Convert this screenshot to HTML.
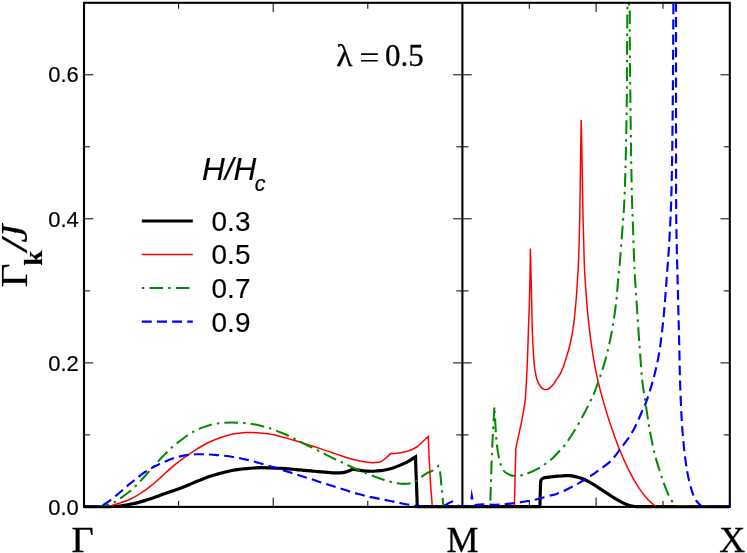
<!DOCTYPE html>
<html><head><meta charset="utf-8"><title>plot</title>
<style>
html,body{margin:0;padding:0;background:#fff;}
body{width:747px;height:553px;overflow:hidden;font-family:"Liberation Sans",sans-serif;}
svg{display:block;will-change:transform;}
text{stroke:#000;stroke-width:0.18px;}
.serif{stroke-width:0.3px;}
.sans{font-family:"Liberation Sans",sans-serif;}
.serif{font-family:"Liberation Serif",serif;}
</style></head><body>
<svg width="747" height="553" viewBox="0 0 747 553">
<rect x="0" y="0" width="747" height="553" fill="#fff"/>
<defs><clipPath id="cp"><rect x="84.0" y="2.8" width="645.8" height="506.6"/></clipPath></defs>
<g clip-path="url(#cp)" fill="none" stroke-linejoin="miter" stroke-miterlimit="10">
<path d="M84.0 506.7C88.0 506.7 102.0 506.8 108.0 506.7C114.0 506.6 116.2 506.5 120.3 506.0C124.4 505.5 129.4 504.4 132.4 503.8C135.4 503.2 136.5 502.9 138.5 502.4C140.5 501.9 142.6 501.2 144.6 500.6C146.6 500.0 148.6 499.4 150.6 498.7C152.6 498.0 154.7 497.3 156.7 496.6C158.7 495.9 160.7 495.0 162.7 494.3C164.7 493.6 166.9 492.9 168.8 492.2C170.7 491.5 171.9 491.1 174.0 490.4C176.1 489.7 178.8 488.8 181.2 487.9C183.6 487.0 186.1 486.0 188.5 485.0C190.9 484.0 193.3 482.8 195.7 481.8C198.1 480.8 200.5 479.8 202.9 478.9C205.3 478.0 207.7 477.1 210.1 476.3C212.5 475.5 215.0 474.8 217.4 474.1C219.8 473.4 222.2 472.8 224.6 472.2C227.0 471.6 229.4 471.0 231.8 470.5C234.2 470.0 236.7 469.6 239.1 469.3C241.5 469.0 243.9 468.8 246.3 468.6C248.7 468.4 251.1 468.1 253.5 468.0C255.9 467.9 258.3 467.7 260.7 467.7C263.1 467.7 265.6 467.7 268.0 467.8C270.4 467.9 272.9 468.0 275.2 468.1C277.5 468.2 279.7 468.3 282.0 468.4C284.3 468.5 286.8 468.7 289.2 468.9C291.6 469.1 294.1 469.4 296.5 469.6C298.9 469.8 301.3 470.1 303.7 470.3C306.1 470.5 308.5 470.7 310.9 470.9C313.3 471.1 315.7 471.4 318.1 471.6C320.5 471.8 323.0 472.0 325.4 472.2C327.8 472.4 330.2 472.7 332.6 472.8C335.0 472.9 337.9 473.0 339.8 472.9C341.7 472.8 342.8 472.7 344.2 472.4C345.6 472.1 347.1 471.4 348.5 470.9C349.9 470.4 352.1 469.5 352.8 469.2L352.8 469.2C353.5 469.3 355.8 469.7 357.2 469.9C358.6 470.1 359.6 470.4 361.5 470.6C363.4 470.8 366.3 471.1 368.7 471.2C371.1 471.3 373.5 471.2 376.0 471.0C378.5 470.8 380.8 470.7 383.5 470.2C386.2 469.7 389.3 469.1 392.2 468.2C395.1 467.3 398.0 466.2 400.9 464.9C403.8 463.6 407.2 462.0 409.6 460.6C412.0 459.2 414.5 457.4 415.5 456.8L415.5 456.8C415.6 459.4 415.8 466.7 416.0 472.2C416.2 477.7 416.5 483.9 416.7 489.6C416.9 495.4 417.2 503.9 417.3 506.7L417.3 506.7L462.4 506.7" stroke="#000000" stroke-width="3.2"/>
<path d="M462.4 506.7L539.9 506.7L539.9 506.7C540.0 504.8 540.1 498.6 540.2 495.0C540.3 491.4 540.4 487.3 540.5 485.0C540.6 482.7 540.6 482.0 540.8 481.0C541.0 480.0 541.2 479.6 541.7 479.1C542.2 478.6 542.7 478.3 543.6 478.0C544.5 477.7 545.8 477.5 547.0 477.3C548.2 477.1 549.7 477.0 551.0 476.8C552.3 476.6 553.5 476.4 555.0 476.3C556.5 476.2 558.3 476.1 560.0 476.0C561.7 475.9 563.8 475.7 565.4 475.6C567.0 475.6 568.2 475.6 569.5 475.7C570.8 475.8 572.0 475.9 573.4 476.1C574.8 476.4 576.4 476.8 578.0 477.2C579.6 477.6 580.9 478.0 582.8 478.8C584.7 479.6 587.3 481.0 589.5 482.2C591.7 483.4 594.0 484.8 596.2 486.2C598.4 487.6 600.7 489.2 602.9 490.6C605.1 492.1 607.3 493.5 609.5 494.9C611.7 496.3 614.0 497.9 616.2 499.2C618.4 500.5 620.7 501.8 622.9 502.9C625.1 503.9 627.4 504.9 629.6 505.5C631.8 506.1 634.9 506.5 636.0 506.7L636.0 506.7L729.8 506.7" stroke="#000000" stroke-width="3.2"/>
<path d="M84.0 506.4C87.2 506.4 98.4 506.6 103.0 506.4C107.6 506.3 109.0 506.0 111.9 505.4C114.8 504.8 117.9 503.7 120.3 502.9C122.7 502.1 124.4 501.6 126.4 500.8C128.4 500.0 130.4 499.0 132.4 498.0C134.4 497.0 136.5 495.8 138.5 494.6C140.5 493.4 142.6 492.1 144.6 490.7C146.6 489.3 148.6 487.7 150.6 486.1C152.6 484.5 154.7 482.8 156.7 481.0C158.7 479.2 160.7 477.5 162.7 475.6C164.7 473.8 166.9 471.6 168.8 469.9C170.7 468.2 171.9 467.1 174.0 465.4C176.1 463.7 178.8 461.7 181.2 459.9C183.6 458.1 186.1 456.3 188.5 454.6C190.9 452.9 193.3 451.3 195.7 449.8C198.1 448.3 200.5 446.8 202.9 445.5C205.3 444.2 207.7 442.9 210.1 441.8C212.5 440.7 215.0 439.6 217.4 438.7C219.8 437.8 222.2 436.9 224.6 436.2C227.0 435.5 229.4 434.8 231.8 434.3C234.2 433.8 236.7 433.5 239.1 433.2C241.5 432.9 243.9 432.7 246.3 432.6C248.7 432.5 251.1 432.6 253.5 432.6C255.9 432.7 258.3 432.7 260.7 432.9C263.1 433.1 265.6 433.3 268.0 433.7C270.4 434.1 272.9 434.6 275.2 435.1C277.5 435.7 279.7 436.4 282.0 437.0C284.3 437.6 286.8 438.2 289.2 438.9C291.6 439.6 294.1 440.3 296.5 441.0C298.9 441.7 300.9 442.3 303.7 443.2C306.5 444.1 310.0 445.2 313.1 446.2C316.2 447.2 319.3 448.3 322.4 449.4C325.5 450.4 328.9 451.5 331.8 452.5C334.7 453.5 337.2 454.3 340.0 455.3C342.8 456.3 345.8 457.4 348.7 458.3C351.6 459.2 354.5 460.0 357.4 460.6C360.3 461.2 363.2 461.8 366.1 462.1C369.0 462.4 372.2 462.8 374.8 462.6C377.4 462.5 379.8 462.1 381.8 461.2C383.8 460.2 385.6 458.2 387.0 456.9C388.4 455.6 389.9 454.2 390.5 453.6L390.5 453.6C391.4 453.6 394.0 453.5 395.7 453.4C397.4 453.2 398.6 453.2 400.9 452.7C403.2 452.2 407.0 451.4 409.6 450.5C412.2 449.6 414.6 448.3 416.6 447.0C418.6 445.7 420.4 443.9 421.8 442.6C423.2 441.3 424.2 440.2 425.3 439.2C426.4 438.2 427.8 437.1 428.3 436.7L428.3 436.7C428.4 439.7 428.7 447.4 429.0 454.8C429.3 462.2 429.8 472.3 430.3 480.9C430.9 489.5 432.0 502.2 432.3 506.4L432.3 506.4L462.4 506.4" stroke="#ff0000" stroke-width="1.5"/>
<path d="M462.4 506.4L514.4 506.4L514.4 506.4C514.5 502.0 514.8 489.7 515.0 480.0C515.2 470.3 515.8 453.3 515.9 448.0L515.9 448.0C516.3 446.2 517.5 440.5 518.2 437.3C518.9 434.1 519.4 431.8 520.0 429.0C520.6 426.2 521.2 423.7 521.8 420.6C522.4 417.5 523.0 414.3 523.6 410.5C524.2 406.7 524.9 403.4 525.4 398.0C525.9 392.6 526.2 385.1 526.6 378.0C527.0 370.9 527.3 363.6 527.6 355.6C527.9 347.6 528.1 337.2 528.4 330.0C528.6 322.8 528.9 319.0 529.1 312.3C529.3 305.6 529.5 297.1 529.7 290.0C529.9 282.9 530.0 276.9 530.1 270.0C530.2 263.1 530.4 252.2 530.4 248.6L530.4 248.6C530.5 253.0 530.8 266.8 531.0 275.0C531.2 283.2 531.4 290.6 531.6 297.8C531.8 305.0 531.9 311.7 532.0 318.0C532.1 324.3 532.3 330.1 532.5 335.4C532.7 340.7 533.0 345.7 533.2 350.0C533.5 354.3 533.7 358.0 534.0 361.4C534.3 364.8 534.6 368.0 535.0 370.5C535.4 373.0 535.8 374.8 536.2 376.5C536.6 378.2 537.1 379.6 537.6 381.0C538.1 382.4 538.7 383.6 539.3 384.7C539.9 385.8 540.6 386.7 541.2 387.4C541.8 388.1 542.5 388.5 543.0 388.8C543.5 389.1 544.0 389.3 544.4 389.4C544.8 389.5 545.2 389.6 545.6 389.6C546.0 389.6 546.4 389.6 546.8 389.5C547.2 389.4 547.4 389.4 548.0 389.1C548.6 388.8 549.5 388.2 550.2 387.6C550.9 387.0 551.7 386.3 552.4 385.5C553.1 384.7 553.8 383.9 554.5 382.8C555.2 381.8 556.0 380.3 556.7 379.2C557.4 378.1 558.2 377.1 558.9 376.0C559.6 374.9 560.3 373.9 561.0 372.4C561.7 370.9 562.5 368.9 563.3 366.8C564.1 364.7 564.8 362.5 565.6 359.9C566.4 357.3 567.4 354.1 568.3 351.0C569.2 347.9 570.1 344.2 570.8 341.0C571.5 337.8 572.0 335.1 572.5 332.0C573.0 328.9 573.5 325.6 573.9 322.3C574.3 319.0 574.6 315.5 575.0 312.0C575.4 308.5 575.7 305.0 576.0 301.5C576.3 298.0 576.6 294.4 576.8 291.0C577.0 287.6 577.2 284.3 577.4 280.8C577.6 277.3 577.9 273.5 578.1 270.0C578.3 266.5 578.4 265.0 578.6 260.0C578.8 255.0 579.0 247.5 579.2 240.0C579.4 232.5 579.6 226.7 579.8 215.0C580.0 203.3 580.2 185.8 580.4 170.0C580.6 154.2 581.1 128.3 581.2 120.0L581.2 120.0C581.4 128.3 581.9 154.2 582.2 170.0C582.5 185.8 582.7 202.5 583.0 215.0C583.3 227.5 583.5 234.8 583.8 245.0C584.1 255.2 584.1 263.3 584.9 276.2C585.7 289.1 587.1 308.5 588.6 322.3C590.1 336.1 592.0 349.4 593.6 359.2C595.2 369.0 596.5 374.4 598.0 381.0C599.5 387.6 600.7 392.1 602.7 399.1C604.7 406.1 607.1 414.6 609.9 423.0C612.7 431.4 616.2 441.2 619.4 449.2C622.6 457.1 625.8 464.3 629.0 470.7C632.2 477.1 635.5 482.8 638.5 487.4C641.5 492.0 644.7 495.8 646.9 498.4C649.1 501.0 650.0 501.7 651.5 503.0C653.0 504.3 655.2 505.9 656.0 506.4L656.0 506.4L729.8 506.4" stroke="#ff0000" stroke-width="1.5"/>
<path d="M84.0 506.4C86.7 506.4 96.0 506.7 100.0 506.4C104.0 506.2 105.8 505.6 108.2 504.9C110.6 504.2 112.3 503.3 114.3 502.2C116.3 501.1 118.3 499.7 120.3 498.3C122.3 496.9 124.4 495.5 126.4 494.0C128.4 492.5 130.4 490.9 132.4 489.1C134.4 487.3 136.5 485.2 138.5 483.1C140.5 481.0 142.6 478.7 144.6 476.5C146.6 474.3 148.6 472.0 150.6 469.8C152.6 467.6 154.7 465.3 156.7 463.1C158.7 460.9 160.7 458.6 162.7 456.5C164.7 454.4 166.9 452.2 168.8 450.4C170.7 448.5 171.9 447.1 174.0 445.4C176.1 443.7 178.8 441.8 181.2 440.0C183.6 438.2 186.1 436.2 188.5 434.6C190.9 433.0 193.3 431.8 195.7 430.6C198.1 429.4 200.5 428.3 202.9 427.4C205.3 426.5 207.7 425.6 210.1 425.0C212.5 424.4 215.0 423.9 217.4 423.5C219.8 423.1 222.2 423.0 224.6 422.8C227.0 422.6 229.4 422.5 231.8 422.5C234.2 422.5 236.7 422.6 239.1 422.7C241.5 422.8 243.9 422.9 246.3 423.2C248.7 423.4 251.1 423.8 253.5 424.2C255.9 424.6 258.3 425.2 260.7 425.8C263.1 426.4 265.6 427.0 268.0 427.7C270.4 428.4 272.9 429.3 275.2 430.2C277.5 431.1 279.7 432.0 282.0 433.0C284.3 434.0 286.8 435.1 289.2 436.2C291.6 437.3 294.1 438.6 296.5 439.8C298.9 441.0 300.9 442.2 303.7 443.6C306.5 445.0 310.0 446.5 313.1 448.0C316.2 449.5 319.3 451.1 322.4 452.7C325.5 454.3 328.7 456.1 331.8 457.6C334.9 459.1 338.4 460.6 341.2 461.9C344.0 463.2 346.0 464.3 348.7 465.6C351.4 466.9 354.5 468.4 357.4 469.6C360.3 470.9 363.2 471.9 366.1 473.1C369.0 474.3 371.9 475.5 374.8 476.6C377.7 477.7 380.6 478.8 383.5 479.7C386.4 480.6 389.3 481.6 392.2 482.3C395.1 483.0 398.0 483.5 400.9 483.7C403.8 483.9 407.0 484.0 409.6 483.5C412.2 483.0 414.6 482.0 416.6 480.9C418.6 479.8 420.1 477.9 421.8 476.6C423.5 475.3 425.0 474.2 427.0 473.1C429.0 472.0 432.1 471.3 434.0 470.1C435.9 468.9 437.6 466.6 438.3 465.9L438.3 465.9C438.6 466.9 439.5 468.2 440.1 472.2C440.7 476.1 441.2 483.9 441.8 489.6C442.4 495.3 443.1 503.6 443.4 506.4L443.4 506.4L462.4 506.4" stroke="#008b00" stroke-width="2.05" stroke-dasharray="2.5 5.1 13.7 5.1" stroke-dashoffset="-4"/>
<path d="M462.4 506.4L490.2 506.4L490.2 506.4C490.3 503.3 490.5 496.5 490.8 487.4C491.1 478.3 491.6 461.6 492.0 451.6C492.4 441.7 492.8 435.2 493.2 427.7C493.6 420.2 494.2 410.2 494.4 406.7L494.4 406.7C494.6 410.2 495.2 421.4 495.6 427.7C496.0 434.0 496.2 439.2 496.8 444.4C497.4 449.6 498.2 454.6 499.2 458.8C500.2 463.0 501.1 466.9 502.7 469.5C504.3 472.1 506.7 473.2 508.7 474.3C510.7 475.4 512.7 475.8 514.7 476.0C516.7 476.2 518.6 475.9 520.6 475.5C522.6 475.1 523.6 475.0 526.6 473.8C529.6 472.6 534.5 470.6 538.5 468.3C542.5 466.0 546.9 463.0 550.5 460.0C554.1 457.0 557.7 452.8 560.0 450.4C562.3 448.0 562.1 448.8 564.5 445.6C566.9 442.4 570.9 436.5 574.1 431.3C577.3 426.1 580.8 419.8 583.6 414.6C586.4 409.4 589.0 404.1 590.8 400.3C592.6 396.5 593.1 395.9 594.6 392.0C596.1 388.1 598.2 382.4 600.0 377.0C601.8 371.6 603.9 365.4 605.5 359.5C607.1 353.6 608.5 347.6 609.8 341.6C611.1 335.6 612.1 330.4 613.2 323.5C614.3 316.6 615.6 307.0 616.4 300.0C617.2 293.0 617.4 287.5 618.0 281.4C618.6 275.3 619.2 270.2 619.8 263.3C620.4 256.4 621.0 247.0 621.6 239.8C622.2 232.6 622.6 226.5 623.1 219.9C623.6 213.3 624.0 210.0 624.4 200.0C624.8 190.0 625.3 176.7 625.7 160.0C626.1 143.3 626.6 117.5 626.8 100.0C627.0 82.5 626.9 66.7 627.0 55.0C627.1 43.3 627.1 37.8 627.2 30.0C627.3 22.2 627.2 12.5 627.5 8.0C627.8 3.5 628.5 3.8 628.7 2.9" stroke="#008b00" stroke-width="2.05" stroke-dasharray="2.5 5.1 13.7 5.1" stroke-dashoffset="0.3"/>
<path d="M628.7 2.9C628.9 4.1 629.5 5.5 629.7 10.0C629.9 14.5 629.8 22.3 629.8 30.0C629.8 37.7 629.8 44.3 629.9 56.0C630.0 67.7 630.2 82.7 630.4 100.0C630.6 117.3 630.9 143.3 631.2 160.0C631.5 176.7 631.7 188.8 632.0 200.0C632.3 211.2 632.7 218.1 633.0 227.1C633.3 236.1 633.6 246.1 633.9 254.2C634.2 262.3 634.5 268.4 634.9 275.9C635.3 283.4 635.6 287.4 636.4 299.2C637.2 311.0 638.6 333.4 639.6 346.9C640.6 360.4 641.2 370.5 642.2 380.0C643.2 389.5 644.5 395.9 645.7 403.9C646.9 411.8 647.9 419.8 649.3 427.7C650.7 435.6 652.5 444.8 654.1 451.6C655.7 458.4 657.3 463.1 658.9 468.3C660.5 473.5 662.0 478.2 663.6 482.6C665.2 487.0 666.8 491.2 668.4 494.6C670.0 498.0 671.6 500.9 673.2 502.9C674.8 504.9 677.2 505.9 678.0 506.4L678.0 506.4L729.8 506.4" stroke="#008b00" stroke-width="2.05" stroke-dasharray="2.5 5.1 13.7 5.1" stroke-dashoffset="0"/>
<path d="M84.0 506.4C86.0 506.4 93.3 506.5 96.0 506.4C98.7 506.4 99.2 506.3 100.5 506.0C101.8 505.7 102.4 505.4 104.0 504.5C105.6 503.6 108.0 501.9 110.1 500.3C112.2 498.7 114.5 496.9 116.7 495.1C118.9 493.3 120.9 491.5 123.0 489.7C125.1 487.9 127.2 486.0 129.4 484.2C131.6 482.4 133.8 480.7 135.9 479.0C138.1 477.3 140.1 475.4 142.3 473.9C144.5 472.3 146.7 471.0 148.9 469.7C151.1 468.4 153.3 467.1 155.5 466.0C157.7 464.9 159.9 463.8 162.1 462.8C164.3 461.8 166.8 460.8 168.8 460.0C170.8 459.2 171.9 458.8 174.0 458.1C176.1 457.5 178.8 456.6 181.2 456.1C183.6 455.6 186.1 455.2 188.5 454.9C190.9 454.6 193.3 454.4 195.7 454.3C198.1 454.2 200.5 454.2 202.9 454.2C205.3 454.2 207.7 454.4 210.1 454.5C212.5 454.6 215.0 454.9 217.4 455.1C219.8 455.3 222.2 455.5 224.6 455.8C227.0 456.1 229.4 456.4 231.8 456.8C234.2 457.2 236.7 457.5 239.1 458.0C241.5 458.5 243.9 459.0 246.3 459.6C248.7 460.2 251.1 460.8 253.5 461.4C255.9 462.0 258.3 462.8 260.7 463.5C263.1 464.2 265.6 464.9 268.0 465.6C270.4 466.3 272.9 467.1 275.2 467.8C277.5 468.5 279.7 469.3 282.0 470.0C284.3 470.7 286.8 471.4 289.2 472.1C291.6 472.9 294.1 473.7 296.5 474.5C298.9 475.3 301.3 476.1 303.7 476.8C306.1 477.6 308.5 478.2 310.9 479.0C313.3 479.8 315.7 480.6 318.1 481.4C320.5 482.2 323.0 482.9 325.4 483.7C327.8 484.5 330.2 485.3 332.6 486.1C335.0 486.9 337.1 487.5 339.8 488.3C342.5 489.1 345.8 490.3 348.7 491.2C351.6 492.1 354.5 493.0 357.4 493.8C360.3 494.6 363.2 495.3 366.1 496.0C369.0 496.7 371.9 497.3 374.8 497.9C377.7 498.5 380.6 499.1 383.5 499.7C386.4 500.3 389.3 500.8 392.2 501.4C395.1 502.0 398.0 502.6 400.9 503.2C403.8 503.8 406.7 504.3 409.6 504.8C412.5 505.3 416.9 506.2 418.3 506.4L418.3 506.4L443.5 506.4L443.5 506.4C444.2 506.0 446.6 504.3 448.0 503.5C449.4 502.7 451.5 501.8 452.2 501.5L452.2 501.5C452.8 501.8 454.6 502.7 455.7 503.5C456.8 504.3 458.4 506.0 459.0 506.4L459.0 506.4L462.4 506.4" stroke="#0000ff" stroke-width="2.15" stroke-dasharray="10 5.15" stroke-dashoffset="-4"/>
<path d="M462.4 506.4L474.0 506.4L474.0 506.4C474.3 506.2 475.0 505.2 476.0 504.9C477.0 504.6 478.3 504.6 480.0 504.5C481.7 504.4 483.5 504.4 486.0 504.5C488.5 504.6 492.2 504.8 495.0 504.8C497.8 504.8 499.5 504.7 502.7 504.4C505.9 504.1 510.0 503.6 514.0 503.1C518.0 502.6 522.6 502.0 526.6 501.3C530.6 500.6 534.0 500.0 538.0 499.0C542.0 498.0 547.5 496.3 550.5 495.5C553.5 494.7 554.0 494.9 556.0 494.2C558.0 493.5 560.5 492.5 562.7 491.5C564.9 490.5 567.2 489.3 569.4 488.2C571.6 487.1 573.9 485.9 576.1 484.7C578.3 483.5 580.6 482.1 582.8 480.8C585.0 479.5 587.3 478.1 589.5 476.7C591.7 475.2 594.0 473.7 596.2 472.1C598.4 470.5 600.7 469.0 602.9 467.3C605.1 465.6 607.5 463.9 609.5 462.1C611.5 460.3 613.1 458.4 614.9 456.3C616.6 454.2 618.0 452.1 620.0 449.4C622.0 446.7 624.8 443.3 627.0 440.2C629.2 437.1 631.2 433.9 633.0 430.8C634.8 427.7 636.2 424.5 637.7 421.4C639.2 418.3 640.2 415.4 641.7 412.0C643.2 408.6 644.4 406.9 646.4 401.3C648.4 395.7 651.3 387.0 653.5 378.6C655.7 370.2 657.9 360.7 659.5 350.8C661.1 340.9 662.2 330.9 663.4 319.0C664.6 307.1 665.6 292.5 666.6 279.3C667.6 266.1 668.6 254.5 669.4 239.6C670.2 224.7 670.9 213.3 671.5 190.0C672.1 166.7 672.5 131.7 672.8 100.0C673.1 68.3 673.3 18.3 673.4 0.0C673.5 -18.3 673.5 -8.3 673.5 -10.0" stroke="#0000ff" stroke-width="2.15" stroke-dasharray="10 5.15" stroke-dashoffset="2.5"/>
<path d="M676.0 -10.0C676.0 -8.3 676.0 -33.3 676.0 0.0C676.0 33.3 676.0 150.1 676.1 190.0C676.2 229.9 676.3 221.4 676.6 239.6C676.9 257.8 677.7 281.3 678.1 299.2C678.5 317.1 679.0 333.4 679.3 346.9C679.6 360.4 679.6 368.5 680.0 380.0C680.4 391.5 680.9 404.7 681.5 415.8C682.1 426.9 682.9 437.2 683.9 446.8C684.9 456.4 686.1 465.5 687.5 473.1C688.9 480.7 690.7 487.4 692.3 492.2C693.9 497.0 695.4 499.3 697.0 501.7C698.6 504.1 701.2 505.7 702.0 506.4L702.0 506.4L729.8 506.4" stroke="#0000ff" stroke-width="2.15" stroke-dasharray="10 5.15" stroke-dashoffset="3.7"/>
<path d="M471.5 488.2L473.6 499.6L470.4 499.6Z" fill="#0000ff" stroke="none"/>
</g>
<path d="M84.0 506.9 h9.3M453.1 506.9 h18.6M720.5 506.9 h9.3M84.0 362.9 h9.3M453.1 362.9 h18.6M720.5 362.9 h9.3M84.0 218.8 h9.3M453.1 218.8 h18.6M720.5 218.8 h9.3M84.0 74.8 h9.3M453.1 74.8 h18.6M720.5 74.8 h9.3M84.0 434.9 h6.0M456.4 434.9 h12.0M723.8 434.9 h6.0M84.0 290.9 h6.0M456.4 290.9 h12.0M723.8 290.9 h6.0M84.0 146.8 h6.0M456.4 146.8 h12.0M723.8 146.8 h6.0M178.6 506.9 v-6.0M178.6 2.8 v6.0M529.3 506.9 v-6.0M529.3 2.8 v6.0M273.2 506.9 v-9.3M273.2 2.8 v9.3M596.1 506.9 v-9.3M596.1 2.8 v9.3M367.8 506.9 v-6.0M367.8 2.8 v6.0M663.0 506.9 v-6.0M663.0 2.8 v6.0" stroke="#000" stroke-width="1.0" fill="none"/>
<rect x="84.0" y="2.8" width="645.8" height="504.1" fill="none" stroke="#000" stroke-width="2.1"/>
<path d="M462.4 2.8 V506.9" stroke="#000" stroke-width="2.1" fill="none"/>
<text class="sans" transform="translate(78.8 515.2) scale(0.975 1)" font-size="22.5" text-anchor="end" fill="#000">0.0</text>
<text class="sans" transform="translate(78.8 370.9) scale(0.975 1)" font-size="22.5" text-anchor="end" fill="#000">0.2</text>
<text class="sans" transform="translate(78.8 226.5) scale(0.975 1)" font-size="22.5" text-anchor="end" fill="#000">0.4</text>
<text class="sans" transform="translate(78.8 82.2) scale(0.975 1)" font-size="22.5" text-anchor="end" fill="#000">0.6</text>
<text class="serif" transform="translate(71.6 551.6) scale(1.07 1)" font-size="36" fill="#000">&#915;</text>
<text class="serif" x="462.6" y="551.6" font-size="36" text-anchor="middle" fill="#000">M</text>
<text class="serif" x="732.2" y="551.6" font-size="36" text-anchor="middle" fill="#000">X</text>
<g class="serif" transform="translate(27.4 287.6) rotate(-90)" font-size="37.5" fill="#000"><text transform="translate(0.0 0) scale(1.11 1)">&#915;</text><text transform="translate(21.9 14.4) scale(1.07 1)" font-size="25.5" font-weight="bold">k</text><text transform="translate(36.9 0) scale(1.12 1)" font-style="italic" font-weight="bold">/</text><text transform="translate(45.0 0) scale(1.08 1)" font-style="italic">J</text></g>
<text class="serif" transform="translate(336.3 66.2) scale(1.08 1)" font-size="31" fill="#000">&#955;</text>
<path d="M361 54.1H377.8M361 60.8H377.8" stroke="#000" stroke-width="1.6" fill="none"/>
<text class="serif" x="385.1" y="66.2" font-size="31" fill="#000">0.5</text>
<text class="sans" x="202" y="180.2" font-size="31.5" font-style="italic" fill="#000">H/H<tspan font-size="21.5" dy="11" dx="-1.5">c</tspan></text>
<path d="M141.8 221.0 H192.8" stroke="#000" stroke-width="3.2" fill="none"/>
<path d="M141.8 254.4 H192.8" stroke="#ff0000" stroke-width="1.5" fill="none"/>
<path d="M141.8 288.0 H192.8" stroke="#008b00" stroke-width="2.1" stroke-dasharray="2.5 5.1 13.7 5.1" fill="none"/>
<path d="M141.8 321.7 H192.8" stroke="#0000ff" stroke-width="2.2" stroke-dasharray="10 5.15" fill="none"/>
<text class="sans" x="211.5" y="230.9" font-size="27.9" letter-spacing="0.1" fill="#000">0.3</text>
<text class="sans" x="211.5" y="264.3" font-size="27.9" letter-spacing="0.1" fill="#000">0.5</text>
<text class="sans" x="211.5" y="297.9" font-size="27.9" letter-spacing="0.1" fill="#000">0.7</text>
<text class="sans" x="211.5" y="331.6" font-size="27.9" letter-spacing="0.1" fill="#000">0.9</text>
</svg>
</body></html>
